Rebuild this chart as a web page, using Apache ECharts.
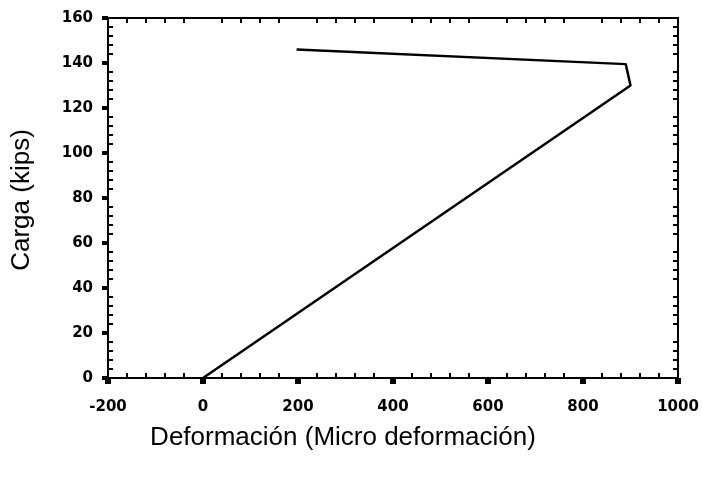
<!DOCTYPE html>
<html>
<head>
<meta charset="utf-8">
<script src="https://cdn.jsdelivr.net/npm/echarts@6/dist/echarts.min.js"></script>
<style>html,body{margin:0;padding:0;background:#fff;}#c{width:702px;height:478px;}</style>
</head>
<body>
<div id="c"></div>
<script>
var deformacion = [0, 900, 890, 197];
var carga = [0, 130, 139.5, 146];
var xTicks = {min: -200, max: 1000, interval: 200};
var yTicks = {min: 0, max: 160, interval: 20};
var xTitle = 'Deformación (Micro deformación)';
var yTitle = 'Carga (kips)';

var points = deformacion.map(function (d, i) { return [d, carga[i]]; });
var black = '#000';
var labelFont = {color: black, fontWeight: 'bold', fontFamily: 'DejaVu Sans', fontSize: 15};

function baseX(extra) {
  return Object.assign({
    type: 'value', min: xTicks.min, max: xTicks.max, interval: xTicks.interval,
    splitLine: {show: false}, axisLabel: {show: false},
    axisLine: {show: true, onZero: false, lineStyle: {color: black, width: 2}},
    axisTick: {show: false, inside: true},
    minorTick: {show: true, splitNumber: 5, length: 5, lineStyle: {color: black, width: 2}}
  }, extra);
}
function baseY(extra) {
  return Object.assign({
    type: 'value', min: yTicks.min, max: yTicks.max, interval: yTicks.interval,
    splitLine: {show: false}, axisLabel: {show: false},
    axisLine: {show: true, onZero: false, lineStyle: {color: black, width: 2}},
    axisTick: {show: false, inside: true},
    minorTick: {show: true, splitNumber: 5, length: 5, lineStyle: {color: black, width: 2}}
  }, extra);
}
function plain(v) { return String(v); }

var chart = echarts.init(document.getElementById('c'), null, {renderer: 'canvas'});
chart.setOption({
  animation: false,
  backgroundColor: '#fff',
  grid: {left: 108, right: 24, top: 18, bottom: 100, containLabel: false},
  xAxis: [
    baseX({position: 'bottom',
      minorTick: {show: false},
      axisTick: {show: true, inside: false, length: 6, lineStyle: {color: black, width: 6}},
      axisLabel: Object.assign({show: true, margin: 22, showMinLabel: true, showMaxLabel: true, formatter: plain}, labelFont)}),
    baseX({position: 'bottom'}),
    baseX({position: 'top'})
  ],
  yAxis: [
    baseY({position: 'left',
      minorTick: {show: false},
      axisTick: {show: true, inside: false, length: 6, lineStyle: {color: black, width: 4}},
      axisLabel: Object.assign({show: true, margin: 15, showMinLabel: true, showMaxLabel: true, formatter: plain}, labelFont)}),
    baseY({position: 'left'}),
    baseY({position: 'right'})
  ],
  graphic: [
    {type: 'text', x: 343, y: 438,
      style: {text: xTitle, fill: black, align: 'center', verticalAlign: 'middle', font: '26px "Liberation Sans", Arial, sans-serif'}},
    {type: 'text', x: 22, y: 200, rotation: Math.PI / 2,
      style: {text: yTitle, fill: black, align: 'center', verticalAlign: 'middle', font: '26px "Liberation Sans", Arial, sans-serif'}}
  ],
  series: [{
    type: 'line', xAxisIndex: 0, yAxisIndex: 0, data: points,
    showSymbol: false, symbol: 'none',
    lineStyle: {color: black, width: 2.5}
  }]
});
</script>
</body>
</html>
